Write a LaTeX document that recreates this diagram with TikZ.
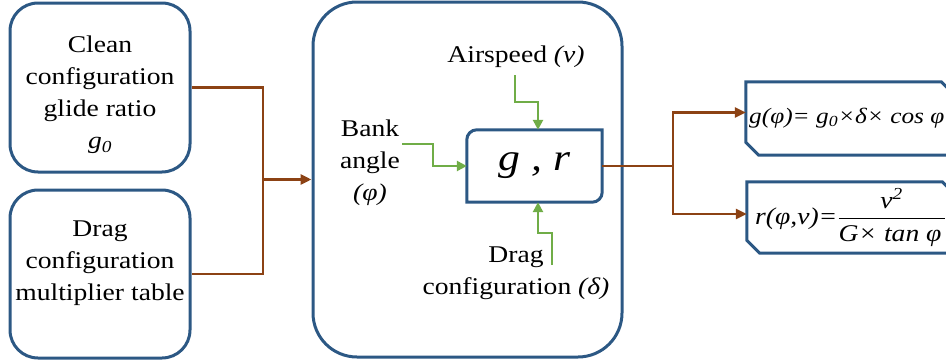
\documentclass[tikz,border=0pt]{standalone}
\usepackage{fontspec}
\setmainfont[FakeStretch=1.15]{Liberation Serif}
\usetikzlibrary{arrows.meta,calc}
\definecolor{boxblue}{RGB}{44,88,132}
\definecolor{flowbrown}{RGB}{140,66,20}
\definecolor{flowgreen}{RGB}{112,173,71}
\begin{document}
\begin{tikzpicture}[x=1pt,y=-1pt,
  bx/.style={draw=boxblue, line width=3pt, rounded corners=28pt, inner sep=0pt},
  bigbx/.style={draw=boxblue, line width=3pt, rounded corners=44pt, inner sep=0pt},
  boxline/.style={draw=boxblue, line width=3pt},
  outbx/.style={inner sep=0pt, minimum width=208pt},
  outtxt/.style={anchor=west, inner sep=0pt, font=\fontsize{22}{26}\selectfont\itshape},
  txt/.style={font=\fontsize{24}{32}\selectfont, align=center, inner sep=0pt},
  br/.style={draw=flowbrown, line width=2.8pt},
  brarrow/.style={br, -{Triangle[length=11pt,width=10pt]}},
  grn/.style={draw=flowgreen, line width=2.6pt, -{Triangle[length=10pt,width=10pt]}}
]
\useasboundingbox (0,0) rectangle (946,364);
\clip (0,0) rectangle (946,364);

% left input boxes
\node[bx, minimum width=180pt, minimum height=169pt] (b1) at (100,87.5) {};
\node[bx, minimum width=180pt, minimum height=168pt] (b2) at (100,274) {};
\node[txt] (t1) at (100,95) {Clean\\configuration\\glide ratio\\\textit{g\textsubscript{0}}};
\node[txt] (t2) at (100,263.5) {Drag\\configuration\\multiplier table};

% big box
\node[bigbx, minimum width=309pt, minimum height=355pt] (big) at (467.5,179.5) {};

% inner g,r box
\node[inner sep=0pt, minimum width=135pt, minimum height=72pt,
      font=\fontsize{38}{40}\selectfont\itshape] (gr) at (534.5,166) {g , r};
\draw[boxline]
  (gr.west) -- (gr.south west) -- (gr.south) [rounded corners=10pt] -- (gr.south east) -- (gr.east)
  [sharp corners] -- (gr.north east) -- (gr.north) [rounded corners=10pt] -- (gr.north west) -- cycle;

% labels inside big box
\node[txt, anchor=base] (as) at (516,62) {Airspeed \textit{(v)}};
\node[txt] (bk) at (370,163) {Bank\\angle\\\textit{(φ)}};
\node[txt] (dg) at (516,273.5) {Drag\\configuration \textit{(δ)}};

% output boxes (chamfered top-right and bottom-left)
\node[outbx, minimum height=73pt] (b3) at (850,118.5) {};
\node[outbx, minimum height=71pt] (b4) at (851,217.5) {};
\foreach \b in {b3,b4}{
  \draw[boxline] (\b.north west) -- ([xshift=-13pt]\b.north east) -- ([yshift=-13pt]\b.north east)
    -- (\b.south east) -- ([xshift=13pt]\b.south west) -- ([yshift=13pt]\b.south west) -- cycle;
}
\node[outtxt] (t3) at (749,118.5) {g(φ)= g\textsubscript{0}×δ× cos φ};
\node[outtxt, font=\fontsize{24}{28}\selectfont\itshape] (t4) at (755,217.5)
  {r(φ,v)=$\displaystyle\frac{\makebox[106pt]{\itshape v\textsuperscript{2}}}{\makebox[106pt][l]{\itshape G× tan φ}}$};

% brown connectors
\coordinate (j) at (263,179.5);
\draw[br] (b1.east) -| (j) |- (b2.east);
\draw[brarrow] (j) -- (big.west);
\coordinate (k) at (673,166);
\draw[br] (gr.east) -- (k);
\draw[brarrow] (k) |- ([yshift=6pt]b3.west);
\draw[brarrow] (k) |- ([yshift=3.5pt]b4.west);

% green connectors
\coordinate (a0) at (515,75);
\draw[grn] (a0) -- ++(0,27) -| ([xshift=3.5pt]gr.north);
\coordinate (p0) at (402,144);
\draw[grn] (p0) -- ++(31,0) |- (gr.west);
\coordinate (d0) at (552,265);
\draw[grn] (d0) -- ++(0,-32) -| ([xshift=3.5pt]gr.south);
\end{tikzpicture}
\end{document}
